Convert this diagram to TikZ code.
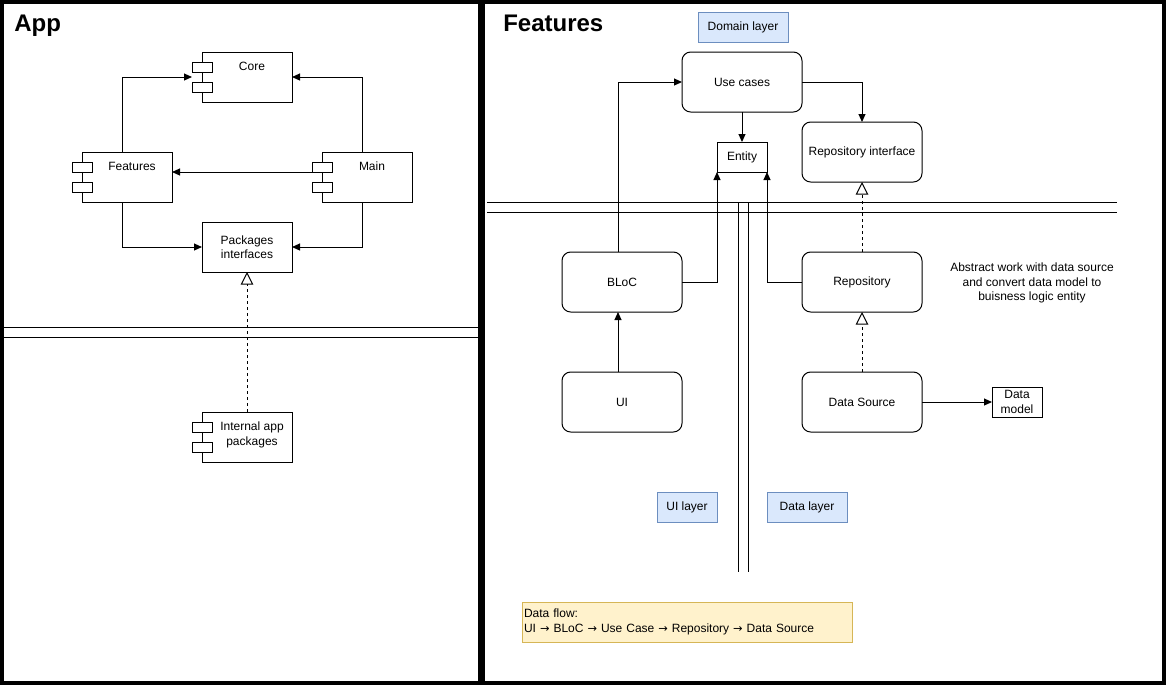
\documentclass[tikz,border=0pt]{standalone}
\usepackage{fontspec}
\setmainfont{Liberation Sans}
\newfontfamily\arrowfont{DejaVu Sans}
\usetikzlibrary{arrows.meta,calc}

\definecolor{layerfill}{HTML}{DAE8FC}
\definecolor{layerdraw}{HTML}{6C8EBF}
\definecolor{notefill}{HTML}{FFF2CC}
\definecolor{notedraw}{HTML}{D6B656}

% small arrow used in the data flow note
\newcommand\flowarrow{{\arrowfont\fontsize{8.5pt}{9pt}\selectfont →}}

\tikzset{
  px/.style={x=0.75pt,y=-0.75pt},
  lbl/.style={font=\fontsize{9pt}{10.8pt}\selectfont},
  frame/.style={line width=3pt},
  plainbox/.style={draw, line width=0.75pt, lbl, inner sep=0pt, outer sep=0pt, align=center, fill=white},
  roundbox/.style={plainbox, rounded corners=6.5pt, minimum width=90pt, minimum height=45pt},
  compshape/.style={inner sep=0pt, outer sep=0pt, minimum width=75pt, minimum height=37.5pt},
  layertag/.style={plainbox, fill=layerfill, draw=layerdraw, minimum height=22.5pt},
  arr/.style={line width=0.75pt, -{Triangle[length=6pt,width=5.25pt]}},
  realize/.style={line width=0.75pt, dash pattern=on 2.25pt off 2.25pt, -{Triangle[open,length=9.5pt,width=9.5pt]}},
  sepline/.style={line width=0.75pt},
  paneltitle/.style={font=\fontsize{18pt}{20pt}\selectfont\bfseries, anchor=base west, inner sep=0pt},
}

% UML component: name, x, y, label, label offset from top
\newcommand\umlcomp[5]{%
  \node[compshape] (#1) at (#2,#3) {};
  \draw[line width=0.75pt, fill=white] ($(#1.north west)+(10,0)$) rectangle (#1.south east);
  \draw[line width=0.75pt, fill=white] ($(#1.north west)+(0,10)$) rectangle ++(20,10);
  \draw[line width=0.75pt, fill=white] ($(#1.north west)+(0,30)$) rectangle ++(20,10);
  \node[lbl, align=center, inner sep=0pt, anchor=north] (#1-label) at ($(#1.north)+(10,#5)$) {#4};
}

\begin{document}
\begin{tikzpicture}[px]
\useasboundingbox (0,0) rectangle (1166,687);

% panels
\draw[frame] (2,2) rectangle (480,683);
\draw[frame] (483,2) rectangle (1164,683);
\node[paneltitle] (app-title) at (14,31) {App};
\node[paneltitle] (feat-title) at (503,31) {Features};

% ---- App panel ----
\draw[sepline] (4,327) -- (479,327);
\draw[sepline] (4,337) -- (479,337);

\umlcomp{core}{242}{77}{Core}{10}
\umlcomp{features}{122}{177}{Features}{10}
\umlcomp{main}{362}{177}{Main}{10}
\node[plainbox, minimum width=67.5pt, minimum height=37.5pt] (pkgif) at (247,247) {Packages\\interfaces};
\umlcomp{internal}{242}{437}{Internal app\\packages}{10}

\draw[arr] (features.north) |- (core.west);
\draw[arr] (main.north) |- (core.east);
\draw[arr] ($(main.west)+(0,-5)$) -- ($(features.east)+(0,-5)$);
\draw[arr] (features.south) |- (pkgif.west);
\draw[arr] (main.south) |- (pkgif.east);
\draw[realize] (internal.north -| pkgif.south) -- (pkgif.south);

% ---- Features panel ----
\draw[sepline] (487,202) -- (1117,202);
\draw[sepline] (487,212) -- (1117,212);
\draw[sepline] (738,202) -- (738,572);
\draw[sepline] (748,202) -- (748,572);

\node[layertag, minimum width=67.5pt] (domain) at (743,27) {Domain layer};
\node[roundbox] (usecases) at (742,82) {Use cases};
\node[plainbox, minimum width=37.5pt, minimum height=22.5pt] (entity) at (742,157) {Entity};
\node[roundbox] (repoif) at (862,152) {Repository interface};
\node[roundbox] (bloc) at (622,282) {BLoC};
\node[roundbox] (repo) at (862,282) {Repository};
\node[roundbox] (ui) at (622,402) {UI};
\node[roundbox] (datasrc) at (862,402) {Data Source};
\node[plainbox, minimum width=37.5pt, minimum height=22.5pt] (datamodel) at (1017,402) {Data\\model};
\node[lbl, align=center] (note) at (1032,283) {Abstract work with data source\\and convert data model to\\buisness logic entity};
\node[layertag, minimum width=45pt] (uilayer) at (687,507) {UI layer};
\node[layertag, minimum width=60pt] (datalayer) at (807,507) {Data layer};
\node[plainbox, fill=notefill, draw=notedraw, align=left, text width=244.5pt, inner xsep=1.5pt, minimum height=30pt] (flow) at (687,622)
  {Data flow:\\UI \flowarrow{} BLoC \flowarrow{} Use Case \flowarrow{} Repository \flowarrow{} Data Source};

\draw[arr] ($(bloc.north)+(-4,0)$) |- (usecases.west);
\draw[arr] ($(ui.north)+(-4,0)$) -- ($(bloc.south)+(-4,0)$);
\draw[arr] (bloc.east) -| (entity.south west);
\draw[arr] (repo.west) -| (entity.south east);
\draw[arr] (usecases.south) -- (entity.north);
\draw[arr] (usecases.east) -| (repoif.north);
\draw[realize] (repo.north) -- (repoif.south);
\draw[realize] (datasrc.north) -- (repo.south);
\draw[arr] (datasrc.east) -- (datamodel.west);
\end{tikzpicture}
\end{document}
